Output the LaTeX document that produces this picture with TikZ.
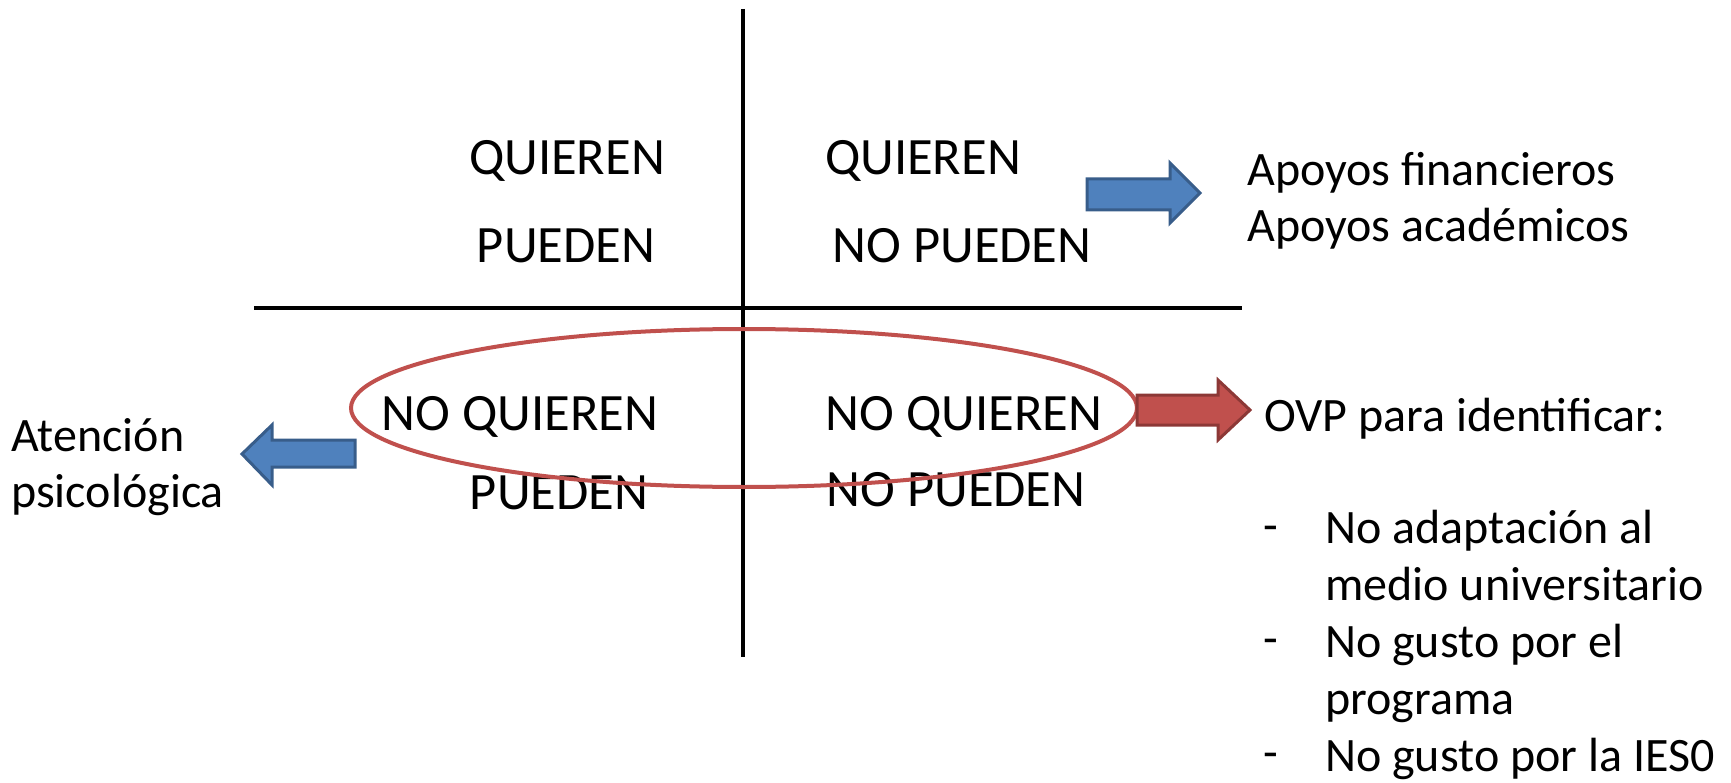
\documentclass[tikz,border=0pt]{standalone}
\usepackage{fontspec}
\setmainfont{Carlito}
\begin{document}
\begin{tikzpicture}[x=1pt,y=-1pt,
  lbl/.style={inner sep=0pt,font=\fontsize{52.5}{62}\selectfont},
  side/.style={inner sep=0pt,anchor=west,align=left,font=\fontsize{48}{56}\selectfont},
  axis/.style={line width=3.5pt,black},
  bluearrow/.style={fill={rgb,255:red,79;green,129;blue,189},draw={rgb,255:red,56;green,93;blue,138},line width=3pt,line join=miter},
  redarrow/.style={fill={rgb,255:red,192;green,80;blue,77},draw={rgb,255:red,140;green,56;blue,54},line width=3pt,line join=miter},
  ring/.style={draw={rgb,255:red,192;green,80;blue,77},line width=4pt}]
\useasboundingbox (0,0) rectangle (1731,783);
% axes
\coordinate (vt) at (743,9);
\coordinate (vb) at (743,657);
\coordinate (hl) at (254,308);
\coordinate (hr) at (1242,308);
\draw[axis] (vt) -- (vb);
\draw[axis] (hl) -- (hr);
% quadrant labels
\node[lbl] (q1a) at (567,161) {QUIEREN};
\node[lbl] (q1b) at (566,246) {PUEDEN};
\node[lbl] (q2a) at (923,161) {QUIEREN};
\node[lbl] (q2b) at (962,246) {NO PUEDEN};
\node[lbl] (q3a) at (520,417) {NO QUIEREN};
\node[lbl] (q3b) at (559,493) {PUEDEN};
\node[lbl] (q4a) at (964,417) {NO QUIEREN};
\node[lbl] (q4b) at (956,490) {NO PUEDEN};
% ellipse
\draw[ring] (744,408) ellipse [x radius=393, y radius=79];
% arrows
\draw[bluearrow] (1087,179) -- (1170,179) -- (1170,163) -- (1200,193) -- (1170,223) -- (1170,210) -- (1087,210) -- cycle;
\draw[redarrow] (1137,395) -- (1218,395) -- (1218,380) -- (1250,410) -- (1218,440) -- (1218,425) -- (1137,425) -- cycle;
\draw[bluearrow] (355,440) -- (272,440) -- (272,425) -- (242,454) -- (272,485) -- (272,467) -- (355,467) -- cycle;
% side texts
\node[side] (fin) at (1247,201) {Apoyos financieros\\Apoyos académicos};
\node[side] (psi) at (11,467) {Atención\\psicológica};
\node[side] (ovp) at (1264,419) {OVP para identificar:};
\node[side] (d1) at (1263,534) {-};
\node[side] (d2) at (1263,647) {-};
\node[side] (d3) at (1263,761) {-};
\node[side,anchor=north west,font=\fontsize{48}{57}\selectfont] (lst) at (1325,510) {No adaptación al\\medio universitario\\No gusto por el\\programa\\No gusto por la IES0};
\end{tikzpicture}
\end{document}
